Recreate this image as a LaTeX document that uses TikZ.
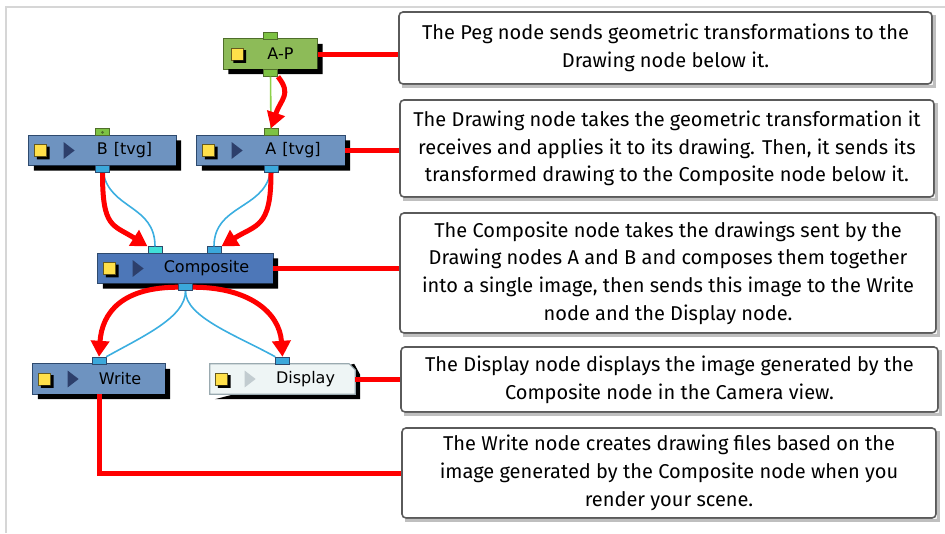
\documentclass[tikz,border=0pt]{standalone}
\usepackage{fontspec}
\setmainfont{Fira Sans}
\newfontfamily\nodefont{DejaVu Sans}
\usetikzlibrary{arrows.meta,positioning,shapes.geometric}
\definecolor{NodeBlue}{HTML}{6E93C0}
\definecolor{CompBlue}{HTML}{4D77B8}
\definecolor{NodeEdge}{HTML}{2E4A6E}
\definecolor{PegGreen}{HTML}{8DBB58}
\definecolor{PegEdge}{HTML}{4F6E2A}
\definecolor{DispFill}{HTML}{EEF5F5}
\definecolor{DispEdge}{HTML}{9AAAB0}
\definecolor{IconYellow}{HTML}{FFE04A}
\definecolor{IconNavy}{HTML}{2D3F6B}
\definecolor{PortGreen}{HTML}{7DC243}
\definecolor{PortBlue}{HTML}{3BA8DB}
\definecolor{PortCyan}{HTML}{40E0D8}
\definecolor{WireBlue}{HTML}{3BAEE0}
\definecolor{WireGreen}{HTML}{8ED14A}
\definecolor{NoteEdge}{HTML}{5A5A5A}
\definecolor{FrameGray}{HTML}{D6D6D6}
\tikzset{
  netspot/.style={minimum height=30pt, inner sep=0pt},
  port/.style={draw=NodeEdge, line width=1pt, fill=PortBlue,
    minimum width=14pt, minimum height=7pt, inner sep=0pt},
  portin/.style={port, draw=PegEdge, fill=PortGreen},
  ysq/.style={draw=black!60!IconYellow, line width=0.8pt, fill=IconYellow,
    minimum size=12pt, inner sep=0pt},
  playmark/.style={isosceles triangle, isosceles triangle apex angle=75,
    fill=IconNavy, minimum height=11pt, minimum width=13pt, inner sep=0pt},
  lbl/.style={font=\nodefont\fontsize{16pt}{18pt}\selectfont, inner sep=0pt},
  note/.style={draw=NoteEdge, line width=1.6pt, rounded corners=4pt,
    align=center, inner sep=0pt,
    font=\fontsize{20pt}{27.7pt}\selectfont},
  redline/.style={red, line width=5pt},
  redarrow/.style={red, line width=5pt, -{Triangle[length=16pt,width=18pt]}},
  wire/.style={WireBlue, line width=1.6pt},
}
\begin{document}
\begin{tikzpicture}[x=1pt, y=-1pt]
  \useasboundingbox (0,0) rectangle (945,533);
  \draw[FrameGray, line width=2pt] (6,533) -- (6,7) -- (945,7);

  % graph nodes (outline drawn below, with shadow)
  \node[netspot, minimum width=94pt] (ap) at (270.5,54) {};
  \node[netspot, minimum width=147pt] (b) at (102.5,150.5) {};
  \node[netspot, minimum width=148pt] (a) at (271,150.5) {};
  \node[netspot, minimum width=175pt] (comp) at (185.5,268.5) {};
  \node[netspot, minimum width=132pt] (w) at (99,379) {};
  \node[netspot, minimum width=145pt] (disp) at (282.5,379) {};
  \foreach \n/\fc/\dc in {ap/PegGreen/PegEdge, b/NodeBlue/NodeEdge, a/NodeBlue/NodeEdge,
      comp/CompBlue/NodeEdge, w/NodeBlue/NodeEdge} {
    \draw[\dc, fill=\fc, line width=1.2pt] (\n.south west) rectangle (\n.north east);
    \fill[black] ([xshift=5pt]\n.south west) rectangle ([shift={(5pt,-5pt)}]\n.south east)
      ([yshift=-5pt]\n.north east) rectangle ([shift={(5pt,-5pt)}]\n.south east);
  }
  \fill[black] ([shift={(5pt,-5pt)}]disp.south west) -- ([shift={(5pt,-5pt)}]disp.south east)
    -- ([shift={(5pt,-11pt)}]disp.north east) -- ([shift={(-1pt,0pt)}]disp.north east) -- cycle;
  \draw[DispEdge, fill=DispFill, line width=1.2pt] (disp.south west) -- (disp.south east)
    -- ([yshift=-6pt]disp.north east) -- ([xshift=-6pt]disp.north east)
    -- (disp.north west) -- cycle;

  % icons and labels
  \node[ysq] (ap-sq) at ([xshift=14pt]ap.west) {};
  \node[lbl] (ap-lbl) at ([xshift=10pt]ap.center) {A-P};
  \node[ysq] (b-sq) at ([xshift=12pt]b.west) {};
  \node[playmark] (b-play) at ([xshift=39pt]b.west) {};
  \node[lbl] (b-lbl) at ([xshift=22pt]b.center) {B\hspace{6pt}[tvg]};
  \node[ysq] (a-sq) at ([xshift=12pt]a.west) {};
  \node[playmark] (a-play) at ([xshift=39pt]a.west) {};
  \node[lbl] (a-lbl) at ([xshift=22pt]a.center) {A\hspace{6pt}[tvg]};
  \node[ysq] (comp-sq) at ([xshift=12pt]comp.west) {};
  \node[playmark] (comp-play) at ([xshift=39pt]comp.west) {};
  \node[lbl] (comp-lbl) at ([xshift=21pt]comp.center) {Composite};
  \node[ysq] (w-sq) at ([xshift=12pt]w.west) {};
  \node[playmark] (w-play) at ([xshift=39pt]w.west) {};
  \node[lbl] (w-lbl) at ([xshift=21pt]w.center) {Write};
  \node[ysq] (disp-sq) at ([xshift=12pt]disp.west) {};
  \node[playmark, fill=DispEdge!60] (disp-play) at ([xshift=39pt]disp.west) {};
  \node[lbl] (disp-lbl) at ([xshift=23pt]disp.center) {Display};
  \foreach \n in {ap-sq,b-sq,a-sq,comp-sq,w-sq,disp-sq}
    \fill[black] ([xshift=2.5pt]\n.south west) rectangle ([shift={(2.5pt,-2.5pt)}]\n.south east)
      ([yshift=-2.5pt]\n.north east) rectangle ([shift={(2.5pt,-2.5pt)}]\n.south east);

  % ports
  \node[portin] (ap-in) at ([yshift=3pt]ap.north) {};
  \node[portin] (ap-out) at ([yshift=-3.5pt]ap.south) {};
  \node[portin] (b-in) at ([yshift=3pt]b.north) {};
  \node[port] (b-out) at ([yshift=-3.5pt]b.south) {};
  \node[portin] (a-in) at ([yshift=3pt]a.north) {};
  \node[port] (a-out) at ([yshift=-3.5pt]a.south) {};
  \node[port, fill=PortCyan] (comp-inl) at ([xshift=-30.5pt,yshift=3pt]comp.north) {};
  \node[port] (comp-inr) at ([xshift=28.5pt,yshift=3pt]comp.north) {};
  \node[port] (comp-out) at ([yshift=-3.5pt]comp.south) {};
  \node[port] (w-in) at ([yshift=3pt]w.north) {};
  \node[port] (disp-in) at ([yshift=3pt]disp.north) {};
  \fill[PegEdge] (b-in) circle (1.5pt);

  % notes
  \node[note, minimum width=533pt, minimum height=72pt] (pegnote) at (665.5,48)
    {The Peg node sends geometric transformations to the\\Drawing node below it.};
  \node[note, minimum width=534pt, minimum height=97pt] (drawnote) at (667,148.5)
    {The Drawing node takes the geometric transformation it\\receives and applies it to its drawing. Then, it sends its\\transformed drawing to the Composite node below it.};
  \node[note, minimum width=536pt, minimum height=120pt] (compnote) at (668,273)
    {The Composite node takes the drawings sent by the\\Drawing nodes A and B and composes them together\\into a single image, then sends this image to the Write\\node and the Display node.};
  \node[note, minimum width=537pt, minimum height=65pt] (dispnote) at (669.5,379.5)
    {The Display node displays the image generated by the\\Composite node in the Camera view.};
  \node[note, minimum width=534pt, minimum height=90pt] (writenote) at (669,473)
    {The Write node creates drawing files based on the\\image generated by the Composite node when you\\render your scene.};
  \foreach \n in {pegnote,drawnote,compnote,dispnote,writenote}
    \fill[black!25] ([shift={(4pt,0pt)}]\n.south west) rectangle ([shift={(3pt,-3pt)}]\n.south east)
      ([shift={(0pt,-4pt)}]\n.north east) rectangle ([shift={(3pt,-3pt)}]\n.south east);

  % wires
  \draw[WireGreen, line width=1.6pt] (ap-out) -- (a-in);
  \draw[wire] (b-out) .. controls +(8,40) and +(0,-45) .. (comp-inl);
  \draw[wire] (a-out) .. controls +(-8,40) and +(0,-45) .. (comp-inr);
  \draw[wire] (comp-out) .. controls +(0,30) and +(45,-25) .. (w-in);
  \draw[wire] (comp-out) .. controls +(0,30) and +(-45,-25) .. (disp-in);

  % red flow arrows
  \draw[redarrow] (ap-out.south east) .. controls +(14,18) and +(10,-30) .. (a-in.north);
  \draw[redarrow] (b-out.south) .. controls +(0,55) and +(-35,-22) .. (comp-inl.north west);
  \draw[redarrow] (a-out.south) .. controls +(0,55) and +(35,-22) .. (comp-inr.north east);
  \draw[redarrow] (comp-out.west) .. controls +(-55,0) and +(3,-45) .. (w-in.north);
  \draw[redarrow] (comp-out.east) .. controls +(55,0) and +(-3,-45) .. (disp-in.north);

  % callout lines
  \draw[redline] (ap.east) -- (ap.east -| pegnote.west);
  \draw[redline] (a.east) -- (a.east -| drawnote.west);
  \draw[redline] (comp.east) -- (comp.east -| compnote.west);
  \draw[redline] (disp.east) -- (disp.east -| dispnote.west);
  \draw[redline] (w.south) |- (writenote.west);
\end{tikzpicture}
\end{document}
